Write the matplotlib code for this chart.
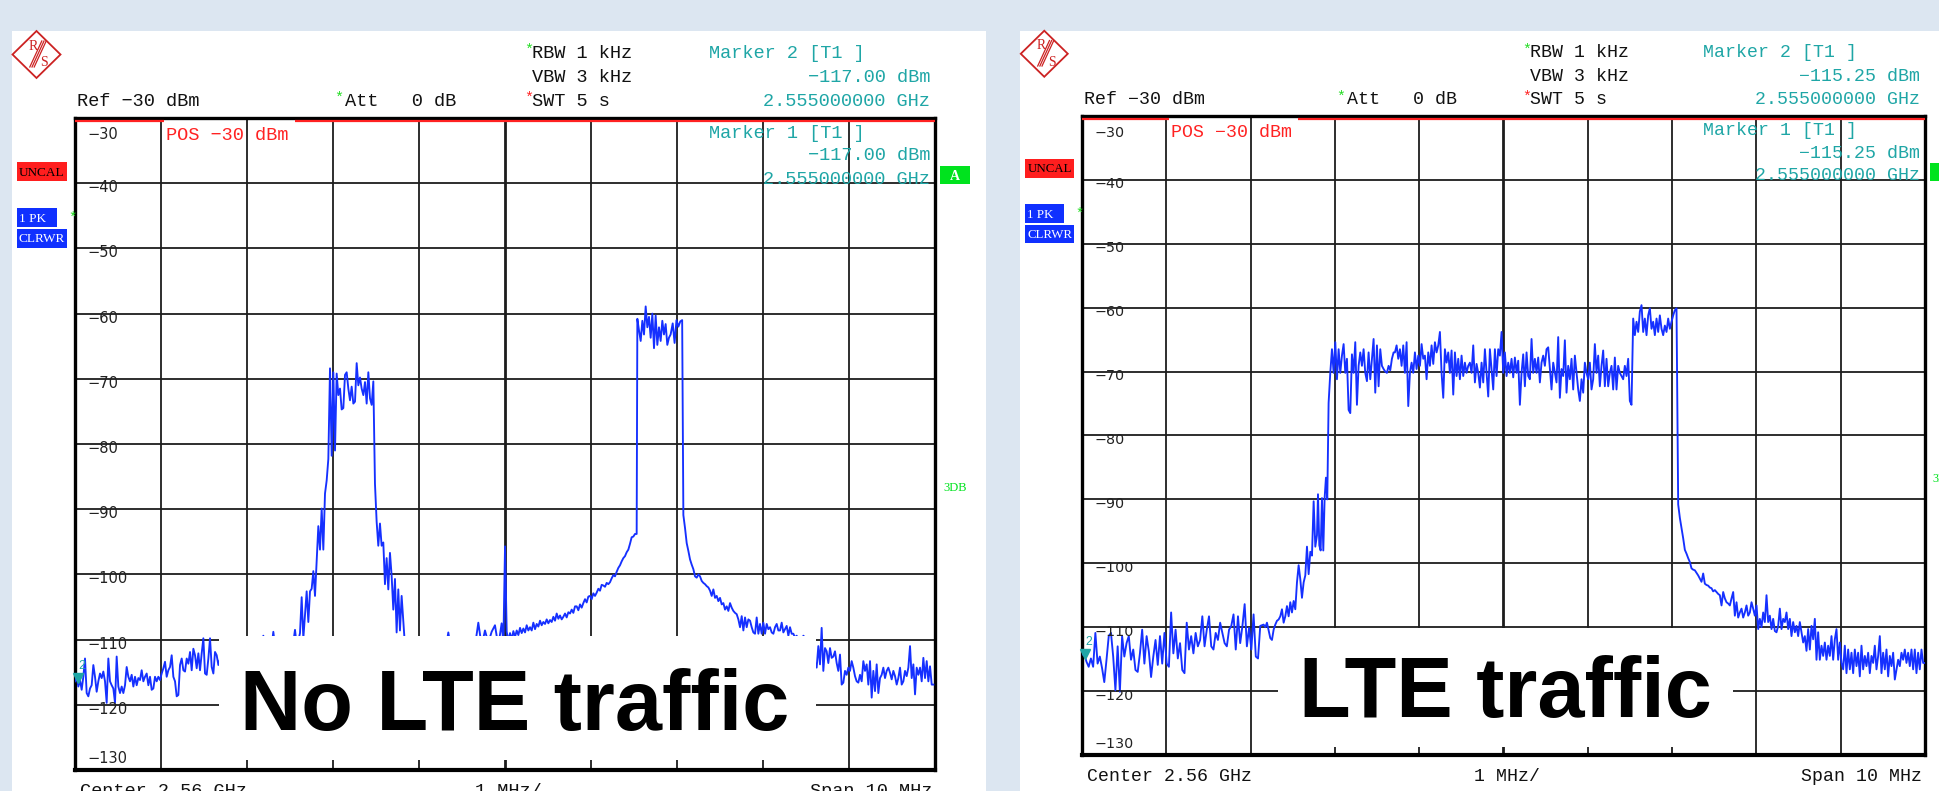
import numpy as np
import matplotlib
matplotlib.use("Agg")
import matplotlib.pyplot as plt
from matplotlib.patches import Rectangle, Polygon
from matplotlib.lines import Line2D
from matplotlib.transforms import blended_transform_factory

# ------------------------------------------------------------------ data
center_ghz = 2.56
span_mhz = 10
ref_dbm = -30
level_ticks = [-30, -40, -50, -60, -70, -80, -90, -100, -110, -120, -130]
marker_freq_ghz = 2.555
marker_nolte = -117.00
marker_lte = -115.25
panel_titles = ["No LTE traffic", "LTE traffic"]

# trace "No LTE traffic": segments (start MHz, stop MHz) relative to centre,
# levels in dBm read from the screen, equally spaced sweep points per segment
nolte_seg_start = [-5.000, -3.314, -1.512, -1.163, -0.019, 1.539, 1.950, 2.074, 3.527]
nolte_seg_stop = [-3.333, -1.531, -1.202, -0.039, 1.531, 1.926, 2.060, 3.508, 4.981]
nolte_lvl_1 = [-116.4, -115.7, -117.2, -116.2, -117.7, -115.7, -112.9, -118.2, -118.7, -117.5,
               -117.0, -113.9, -115.7, -118.0, -116.4, -115.2, -115.9, -114.9, -116.4, -119.7,
               -112.9, -116.4, -117.0, -117.5, -119.7, -112.6, -117.2, -118.2, -117.2, -118.2,
               -117.0, -114.2, -115.7, -116.4, -115.4, -117.2, -115.7, -117.0, -115.9, -116.2,
               -114.7, -116.4, -115.7, -115.2, -117.0, -115.7, -117.7, -117.5, -115.7, -116.4,
               -115.7, -116.2, -115.2, -114.4, -113.4, -115.7, -114.7, -114.2, -112.4, -115.7,
               -116.4, -118.7, -118.5, -113.9, -112.9, -114.7, -114.9, -112.9, -113.7, -111.9,
               -114.7, -111.4, -112.4, -114.4, -112.1, -114.7, -112.1, -109.8, -115.2, -115.4,
               -112.9, -109.8, -114.2, -115.2, -111.9, -112.4, -113.9]
nolte_lvl_2 = [-113, -114, -112, -115, -113, -112, -114, -113, -115, -112,
               -113, -114, -112, -113, -115, -112, -113, -114, -112, -113,
               -111, -113, -112, -111, -112, -111, -109.4, -110.8, -112, -111,
               -112, -111, -108.8, -111, -110.8, -112, -111, -110.5, -112, -111,
               -110.6, -111, -110.5, -112, -110.4, -108.5, -110.8, -110.2, -109.0, -103.5,
               -109.8, -106.3, -102.6, -107.3, -102.6, -102.2, -99.5, -103.3, -98.0, -92.6,
               -96.2, -89.9, -96.2, -87.6, -85.6, -82.3, -68.4, -81.8, -69.0, -81.0,
               -69.2, -72.5, -71.5, -74.7, -74.5, -69.4, -69.0, -71.5, -73.3, -71.2,
               -73.8, -73.5, -67.6, -71.0, -69.8, -71.5, -72.5, -70.5, -73.8, -69.0,
               -73.0, -74.0, -70.4]
nolte_lvl_3 = [-86.1, -91.9, -95.6, -92.2, -95.6, -95.1, -101.5, -97.5, -102.3, -96.7,
               -100.2, -105.4, -100.7, -108.9, -102.3, -108.6, -103.3]
nolte_lvl_4 = [-111.0, -113, -111, -113, -109.6, -113, -112, -114, -112, -113,
               -111, -113, -112, -108.9, -112, -113, -111, -112, -113, -111,
               -112, -111, -107.4, -111, -108.6, -110.5, -108.8, -107.8, -111, -107.5]
nolte_lvl_5 = [-110.5, -95.7, -108.8, -110.2, -109.0, -110.0, -108.7, -109.6, -108.6, -109.3,
               -108.2, -109.0, -108.3, -108.9, -107.8, -108.6, -108.1, -108.6, -107.4, -108.4,
               -107.6, -108.0, -107.1, -107.8, -107.3, -107.6, -106.9, -107.5, -107.0, -107.3,
               -106.5, -107.1, -106.0, -106.8, -106.3, -106.9, -106.5, -106.0, -106.6, -105.8,
               -106.0, -105.4, -105.9, -104.9, -104.9, -105.5, -104.6, -105.1, -104.4, -103.8,
               -104.3, -103.4, -103.3, -103.8, -102.9, -103.3, -102.8, -102.2, -102.5, -101.6,
               -101.7, -101.9, -101.3, -101.5, -101.2, -100.6, -100.1, -100.3, -99.6, -99.0,
               -98.6, -98.0, -97.5, -97.2, -96.6, -96.2, -95.3, -94.3, -94.2, -93.8, -93.8]
nolte_lvl_6 = [-60.8, -62.6, -64.2, -61.1, -63.2, -58.9, -62.1, -60.5, -63.7, -60.0,
               -65.3, -60.3, -64.8, -62.1, -64.2, -61.1, -63.2, -61.6, -64.8, -63.7, -63.2]
nolte_lvl_7 = [-61.5, -64.5, -61.0, -62.0, -61.2, -61.0]
nolte_lvl_8 = [-90.9, -92.9, -95.2, -96.4, -97.7, -98.5, -99.2, -100.3, -100.5, -100.0,
               -100.3, -101.0, -101.3, -101.5, -101.8, -102.0, -102.5, -103.3, -102.3, -103.6,
               -103.3, -104.1, -103.6, -104.6, -104.4, -105.4, -104.9, -105.6, -104.4, -105.1,
               -105.6, -105.9, -106.1, -106.9, -108.1, -106.4, -108.6, -106.6, -108.1, -106.9,
               -107.1, -108.1, -108.9, -109.1, -106.6, -109.1, -107.6, -109.1, -107.4, -109.1,
               -107.6, -108.4, -108.1, -108.9, -109.1, -108.1, -107.6, -108.6, -108.6, -107.4,
               -108.9, -108.4, -107.9, -109.4, -108.1, -109.1, -109.1, -109.7, -109.4, -110.2,
               -109.9, -110.5, -109.4, -109.7, -110.7]
nolte_lvl_9 = [-111.5, -112.0, -112.5, -113.0, -113.5, -114.3, -111.0, -113.8, -108.2, -114.8,
               -111.3, -111.8, -113.6, -111.3, -112.8, -112.6, -111.8, -113.6, -114.8, -112.3,
               -116.9, -116.6, -114.8, -115.4, -114.3, -114.8, -113.3, -114.3, -115.6, -116.4,
               -116.6, -115.4, -116.4, -113.3, -114.8, -113.8, -116.9, -113.3, -118.9, -114.8,
               -117.9, -113.8, -118.2, -115.9, -115.4, -114.3, -115.9, -114.8, -114.3, -115.1,
               -116.1, -114.8, -115.6, -116.9, -115.9, -114.3, -116.9, -116.4, -114.8, -115.6,
               -114.3, -111.0, -115.9, -113.8, -118.4, -114.3, -115.4, -114.3, -116.4, -112.8,
               -115.9, -113.3, -116.4, -114.1, -116.9, -116.9]

# trace "LTE traffic"
lte_seg_start = [-5.000, -2.845, -2.200, -2.054, -1.287, 1.540, 2.074, 2.509]
lte_seg_stop = [-2.885, -2.212, -2.074, -1.303, 1.520, 2.054, 2.489, 5.000]
lte_lvl_1 = [-114.3, -114.1, -115.4, -116.2, -114.9, -116.2, -110.9, -115.7, -114.6, -116.4,
             -118.6, -115.1, -111.4, -110.9, -114.6, -119.9, -113.0, -120.1, -111.4, -114.6,
             -112.5, -111.4, -115.1, -113.5, -116.7, -117.0, -114.1, -110.4, -115.7, -111.4,
             -113.8, -117.8, -114.6, -112.0, -115.9, -111.4, -115.7, -110.9, -115.7, -116.2,
             -107.7, -114.1, -110.4, -114.9, -112.5, -116.7, -117.2, -109.3, -113.5, -111.4,
             -114.1, -110.9, -113.0, -112.0, -108.3, -113.0, -110.4, -108.3, -113.0, -113.5,
             -110.9, -112.0, -109.3, -110.9, -112.5, -113.0, -110.4, -109.8, -108.0, -113.5,
             -108.3, -112.5, -109.8, -106.4, -113.0, -110.1, -113.5, -108.0, -114.6, -114.9,
             -109.8]
lte_lvl_2 = [-109.6, -110.0, -109.3, -110.5, -111.7, -112.0, -110.4, -109.6, -109.0, -108.8,
             -108.3, -107.2, -109.3, -108.3, -106.7, -108.3, -106.1, -107.7, -105.9, -107.2,
             -103.0, -100.3, -102.5, -105.4, -103.0, -101.9, -97.4, -101.7, -98.2, -98.8,
             -90.3, -97.4, -95.6]
lte_lvl_3 = [-89.2, -97.2, -98.0, -89.8, -98.0, -89.8, -86.6, -90.0, -74.9]
lte_lvl_4 = [-70.2, -66.5, -70.2, -65.4, -71.2, -66.5, -70.2, -67.5, -65.7, -70.2,
             -68.0, -76.0, -76.5, -67.3, -70.2, -65.4, -75.2, -69.1, -67.0, -69.1,
             -66.5, -70.2, -71.5, -67.0, -71.2, -68.0, -64.9, -73.3, -65.9, -72.3,
             -66.5, -69.1, -69.6, -70.0, -70.2, -69.1, -69.8, -68.0, -67.0]
lte_lvl_5 = [-67.0, -65.9, -68.0, -66.5, -69.1, -65.9, -70.2, -65.4, -75.4, -70.2,
             -68.6, -70.2, -67.0, -69.6, -67.5, -69.1, -65.7, -68.0, -67.5, -71.2,
             -67.0, -69.1, -65.9, -68.8, -65.4, -67.0, -65.9, -63.8, -70.2, -74.1,
             -66.5, -68.6, -67.0, -70.2, -66.7, -73.6, -67.0, -70.7, -68.0, -71.2,
             -67.5, -70.7, -68.6, -70.2, -69.1, -68.6, -70.2, -65.9, -71.7, -68.8,
             -70.2, -72.5, -68.6, -71.7, -66.5, -70.2, -73.9, -66.5, -69.6, -72.8,
             -66.5, -70.7, -66.5, -67.5, -63.8, -70.2, -67.0, -70.7, -68.6, -70.2,
             -68.0, -70.9, -67.8, -70.2, -68.3, -75.2, -70.2, -67.3, -72.3, -67.0,
             -70.7, -71.2, -64.9, -70.2, -68.0, -70.2, -67.8, -71.7, -68.6, -67.5,
             -69.1, -66.5, -66.2, -69.6, -72.8, -68.6, -70.2, -71.7, -64.6, -74.1,
             -69.6, -70.7, -65.1, -73.3, -69.1, -71.2, -68.0, -72.8, -67.5, -70.2,
             -72.8, -74.6, -71.2, -73.3, -68.6, -70.2, -71.2, -68.6, -72.8, -71.2,
             -65.7, -70.2, -67.5, -72.3, -69.1, -66.7, -72.3, -68.0, -72.3, -70.2,
             -69.1, -72.8, -67.8, -72.8, -69.1, -70.2, -70.7, -71.2, -69.1, -70.7,
             -68.0, -74.6, -75.2]
lte_lvl_6 = [-61.7, -64.3, -62.2, -63.8, -60.6, -59.6, -63.8, -61.7, -64.3, -61.2,
             -60.1, -63.3, -62.2, -64.3, -61.7, -63.8, -61.2, -63.3, -64.3, -62.8,
             -63.8, -61.7, -63.3, -62.2, -61.2, -60.4, -60.1]
lte_lvl_7 = [-90.8, -92.9, -94.5, -96.1, -97.9, -98.5, -99.2, -99.8, -100.8, -101.0,
             -101.1, -101.5, -101.9, -102.4, -102.9, -101.6, -103.2, -103.4, -103.5, -103.8,
             -103.9, -104.4]
lte_lvl_8 = [-104.2, -104.5, -104.8, -105.0, -106.6, -104.5, -105.5, -106.1, -106.3, -106.6,
             -105.5, -104.5, -108.2, -106.1, -108.5, -107.7, -107.1, -108.5, -107.7, -106.6,
             -108.2, -107.7, -106.1, -107.1, -108.2, -106.6, -110.3, -108.7, -110.0, -107.7,
             -109.2, -105.0, -109.2, -108.2, -110.3, -108.7, -110.6, -110.8, -109.8, -107.1,
             -110.3, -108.7, -109.2, -107.7, -110.3, -108.7, -111.4, -109.2, -110.8, -109.8,
             -111.4, -109.2, -110.8, -112.4, -111.4, -113.7, -110.3, -113.5, -109.8, -111.9,
             -108.7, -115.1, -110.8, -115.1, -112.9, -114.5, -112.4, -115.1, -112.9, -114.5,
             -111.4, -115.1, -111.9, -110.3, -115.1, -112.4, -115.6, -116.6, -112.9, -117.2,
             -113.5, -116.6, -114.0, -117.2, -113.5, -116.1, -114.0, -117.7, -112.9, -116.6,
             -114.5, -116.1, -114.0, -117.2, -114.5, -115.6, -112.9, -116.6, -114.5, -111.4,
             -117.2, -114.0, -116.6, -113.5, -117.7, -114.5, -116.1, -114.0, -118.2, -116.6,
             -115.1, -116.1, -114.0, -115.1, -113.5, -115.6, -114.0, -116.1, -113.5, -116.6,
             -113.5, -117.2, -114.0, -116.6, -113.5, -115.6, -115.6]

nolte_levels = [nolte_lvl_1, nolte_lvl_2, nolte_lvl_3, nolte_lvl_4, nolte_lvl_5,
                nolte_lvl_6, nolte_lvl_7, nolte_lvl_8, nolte_lvl_9]
lte_levels = [lte_lvl_1, lte_lvl_2, lte_lvl_3, lte_lvl_4, lte_lvl_5,
              lte_lvl_6, lte_lvl_7, lte_lvl_8]


def build_trace(starts, stops, levels):
    f = np.concatenate([np.linspace(a, b, len(l)) for a, b, l in zip(starts, stops, levels)])
    v = np.concatenate([np.asarray(l, float) for l in levels])
    return f, v


# ------------------------------------------------------------------ style
W, H = 1939, 791
BG = "#dce6f1"
TEAL = "#1fa6a6"
RED = "#ff2222"
BLUE_TRACE = "#1530ff"
GRID = "#1c1c1c"
MONO = ["Liberation Mono", "DejaVu Sans Mono"]
SANS = ["Liberation Sans", "DejaVu Sans"]
LABEL = ["DejaVu Sans"]
SERIF = ["Liberation Serif", "DejaVu Serif"]

fig = plt.figure(figsize=(W / 100, H / 100), dpi=100)
fig.patch.set_facecolor(BG)


def fpt(x, y):
    return x / W, 1 - y / H


def make_T(x0, y0, s):
    return lambda x, y: (x0 + (x - 75) * s, y0 + (y - 118) * s)


def frect(x0, y0, x1, y1, color, z=2, **kw):
    fig.patches.append(Rectangle((x0 / W, 1 - y1 / H), (x1 - x0) / W, (y1 - y0) / H,
                                 transform=fig.transFigure, facecolor=color,
                                 edgecolor="none", zorder=z, **kw))


def draw_panel(T, s, marker_val, trace, box_px, title, title_xy, title_size):
    # white panel background
    x0, y0 = T(12, 31)
    x1, _ = T(986, 31)
    frect(x0, y0, x1, 800, "white", z=-5)

    # axes
    ax_l, ax_t = T(75, 118)
    ax_r, ax_b = T(935, 770)
    ax = fig.add_axes([ax_l / W, 1 - ax_b / H, (ax_r - ax_l) / W, (ax_b - ax_t) / H])
    ax.set_xlim(-span_mhz / 2, span_mhz / 2)
    ax.set_ylim(level_ticks[-1], level_ticks[0])
    ax.set_xticks([])
    ax.set_yticks([])
    for sp in ax.spines.values():
        sp.set_linewidth(2.4)
        sp.set_color("black")
    ax.spines["bottom"].set_linewidth(3.0)
    for k in range(-4, 5):
        ax.axvline(k, color=GRID, lw=2.0 if k == 0 else 1.3, zorder=1)
    for lv in level_ticks[1:-1]:
        ax.axhline(lv, color=GRID, lw=1.3, zorder=1)

    f, v = trace
    ax.plot(f, v, color=BLUE_TRACE, lw=1.35, zorder=3)

    # red reference line under the top frame
    ytop = 1 - 3.2 / (ax_b - ax_t)
    for a, b in [(75, 164), (295, 935)]:
        ax.plot([(a - 75) / 860, (b - 75) / 860], [ytop, ytop], transform=ax.transAxes,
                color=RED, lw=1.6, zorder=4, clip_on=False, solid_capstyle="butt")

    # level labels inside the grid
    tr = blended_transform_factory(ax.transAxes, ax.transData)
    for lv in level_ticks:
        if lv == level_ticks[0]:
            yy = lv - 2.6
        elif lv == level_ticks[-1]:
            yy = lv + 1.7
        else:
            yy = lv - 0.7
        ax.text(0.0145, yy, str(lv).replace("-", "\u2212"), transform=tr, va="center",
                ha="left", fontsize=10.5 * s, family=LABEL, color="#222222", zorder=5)

    # marker 2 at the left edge
    fmk = (marker_freq_ghz - center_ghz) * 1000
    ax.plot([fmk + 0.03], [marker_val + 1.1], marker="v", ms=7 * s, color=TEAL,
            clip_on=False, zorder=6)
    ax.text(fmk + 0.04, marker_val + 2.9, "2", color=TEAL, fontsize=9 * s,
            family=SANS, va="center", ha="left", zorder=6)

    def t(x, y, txt, color="#111111", ha="left", size=13.4, fam=MONO, **kw):
        X, Y = T(x, y)
        fig.text(*fpt(X, Y), txt, color=color, ha=ha, va="center", fontsize=size * s,
                 family=fam, zorder=6, **kw)

    mtxt = f"{marker_val:.2f} dBm".replace("-", "\u2212")
    ftxt = f"{marker_freq_ghz:.9f} GHz"
    t(524, 50, "*", color="#22dd22", size=11)
    t(532, 53, "RBW 1 kHz")
    t(532, 78, "VBW 3 kHz")
    t(524, 98, "*", color=RED, size=11)
    t(532, 101, "SWT 5 s")
    t(77, 101, f"Ref {ref_dbm} dBm".replace("-", "\u2212"))
    t(334, 98, "*", color="#22dd22", size=11)
    t(345, 101, "Att   0 dB")
    t(709, 53, "Marker 2 [T1 ]", color=TEAL)
    t(930, 78, mtxt, color=TEAL, ha="right")
    t(930, 101, ftxt, color=TEAL, ha="right")
    t(166, 135, f"POS {ref_dbm} dBm".replace("-", "\u2212"), color=RED)
    t(709, 133, "Marker 1 [T1 ]", color=TEAL)
    t(930, 156, mtxt, color=TEAL, ha="right")
    t(930, 179, ftxt, color=TEAL, ha="right")
    t(80, 791.5, f"Center {center_ghz:g} GHz")
    t(475, 791.5, f"{span_mhz / 10:g} MHz/")
    t(932, 791.5, f"Span {span_mhz:g} MHz", ha="right")

    # side status boxes
    def box(xa, ya, xb, yb, color, txt, tcolor, size=9.5, ha="center", fam=SERIF, weight="normal"):
        X0, Y0 = T(xa, ya)
        X1, Y1 = T(xb, yb)
        frect(X0, Y0, X1, Y1, color, z=4)
        xt = (X0 + X1) / 2 if ha == "center" else X0 + 2
        fig.text(*fpt(xt, (Y0 + Y1) / 2 + 1), txt, color=tcolor, ha=ha, va="center",
                 fontsize=size * s, family=fam, weight=weight, zorder=6)

    box(17, 162, 67, 181, "#ff1e1e", "UNCAL", "black", size=9.5)
    box(17, 208, 57, 227, "#1030ff", "1 PK", "white", size=9.5, ha="left")
    box(17, 229, 67, 248, "#1030ff", "CLRWR", "white", size=9.5)
    t(68, 218, "*", color="#22dd22", size=10)
    box(940, 166, 970, 184, "#00e31e", "A", "white", size=10, weight="bold")
    t(943, 488, "3DB", color="#00e31e", size=9, fam=SERIF)

    # R&S logo
    cx, cy = T(36.5, 54.5)
    hw, hh = 24 * s, 23.5 * s
    pts = [(cx, cy - hh), (cx + hw, cy), (cx, cy + hh), (cx - hw, cy)]
    fig.patches.append(Polygon([fpt(*p) for p in pts], closed=True, fill=False,
                               edgecolor="#cc2222", lw=1.3, transform=fig.transFigure, zorder=5))
    for d in (-2.2, 0, 2.2):
        a = T(44 + d, 41)
        b = T(32 + d, 67)
        fig.add_artist(Line2D([a[0] / W, b[0] / W], [1 - a[1] / H, 1 - b[1] / H],
                              transform=fig.transFigure, color="#cc2222", lw=0.9, zorder=5))
    t(29, 46, "R", color="#cc2222", size=10, fam=SERIF)
    t(40, 63, "S", color="#cc2222", size=10, fam=SERIF)

    # annotation box + title
    bx0, by0, bx1, by1 = box_px
    frect(bx0, by0, bx1, by1, "white", z=3)
    fig.text(*fpt(*title_xy), title, ha="center", va="baseline", fontsize=title_size,
             family=SANS, weight="bold", color="black", zorder=7)
    return ax


trace_nolte = build_trace(nolte_seg_start, nolte_seg_stop, nolte_levels)
trace_lte = build_trace(lte_seg_start, lte_seg_stop, lte_levels)

draw_panel(make_T(75, 118, 1.0), 1.0, marker_nolte, trace_nolte,
           (219, 636, 816, 760), panel_titles[0], (514.5, 730), 61)
draw_panel(make_T(1082, 116, 0.98), 0.98, marker_lte, trace_lte,
           (1278, 628, 1733, 747), panel_titles[1], (1505, 717), 61)

fig.savefig("out.png", dpi=100, facecolor=BG)
